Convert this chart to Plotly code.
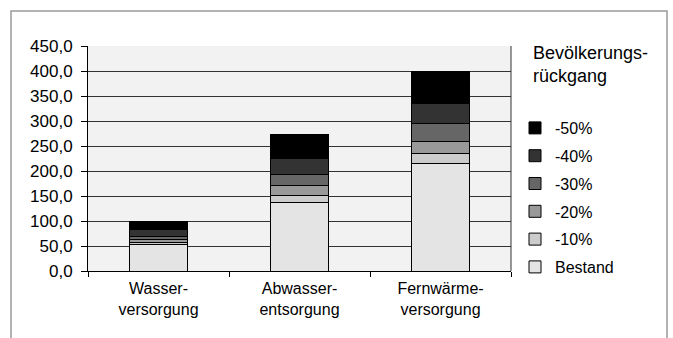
import plotly.graph_objects as go

categories = ["Wasser-<br>versorgung", "Abwasser-<br>entsorgung", "Fernwärme-<br>versorgung"]
series_names = ["Bestand", "-10%", "-20%", "-30%", "-40%", "-50%"]
bestand = [53, 137, 215]
minus10 = [5, 15, 20]
minus20 = [6, 20, 24]
minus30 = [6, 22, 36]
minus40 = [13, 32, 41]
minus50 = [17, 47, 64]
series_values = [bestand, minus10, minus20, minus30, minus40, minus50]
colors = ["#e4e4e4", "#cccccc", "#999999", "#666666", "#333333", "#000000"]
y_ticks = [0, 50, 100, 150, 200, 250, 300, 350, 400, 450]

FONT = "Liberation Sans, Arial, sans-serif"

fig = go.Figure()
n = len(series_names)
for i, (name, vals, col) in enumerate(zip(series_names, series_values, colors)):
    fig.add_trace(go.Bar(
        x=categories, y=vals, name=name, legendgroup=name,
        legendrank=n - i,
        marker=dict(color=col, line=dict(color="#000000", width=1)),
        width=0.41,
    ))

W, H = 673, 338
L, R, T, B = 88, 162, 46, 67
pw = W - L - R
ph = H - T - B

def px_x(x):
    return (x - L) / pw

def px_y(y):
    return (H - B - y) / ph

fig.update_layout(
    width=W, height=H,
    margin=dict(l=L, r=R, t=T, b=B, pad=0),
    barmode="stack",
    separators=",.",
    paper_bgcolor="white",
    plot_bgcolor="#f2f2f2",
    font=dict(family=FONT, color="#000000"),
    showlegend=True,
    legend=dict(
        x=px_x(515), xanchor="left",
        y=px_y(111), yanchor="top",
        traceorder="grouped",
        tracegroupgap=4,
        font=dict(size=16, family=FONT),
        bgcolor="rgba(0,0,0,0)",
        itemwidth=30,
    ),
    xaxis=dict(
        showline=True, linecolor="#000000", linewidth=1,
        ticks="outside", ticklen=5, tickcolor="#000000",
        tickson="boundaries",
        tickfont=dict(size=16, family=FONT),
        ticklabelstandoff=3,
        showgrid=False,
        mirror=False,
    ),
    yaxis=dict(
        range=[0, 450],
        tickvals=y_ticks,
        tickformat=".1f",
        showline=True, linecolor="#000000", linewidth=1,
        ticks="outside", ticklen=6, tickcolor="#000000",
        tickfont=dict(size=17, family=FONT),
        ticklabelstandoff=5,
        showgrid=True, gridcolor="#333333", gridwidth=1.2,
        zeroline=False,
    ),
    annotations=[dict(
        text="Bevölkerungs-<br>rückgang",
        xref="paper", yref="paper",
        x=px_x(531), y=px_y(41),
        xanchor="left", yanchor="top", align="left",
        showarrow=False,
        font=dict(size=18, family=FONT),
    )],
    shapes=[
        dict(type="rect", xref="paper", yref="paper",
             x0=px_x(11), x1=px_x(667), y0=px_y(345), y1=px_y(11),
             line=dict(color="#9a9a9a", width=1.5), fillcolor="rgba(0,0,0,0)", layer="below"),
        dict(type="line", xref="paper", yref="paper",
             x0=1, x1=1, y0=0, y1=1,
             line=dict(color="#333333", width=1)),
    ],
)

fig.write_html(
    "out.html",
    config={"displayModeBar": False},
    post_script="document.body.style.margin='0';document.body.style.padding='0';",
)
